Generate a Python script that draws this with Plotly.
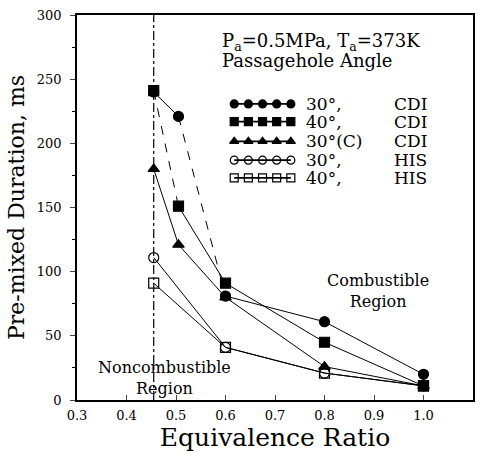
import plotly.graph_objects as go

# ---- data ----
phi_cdi = [0.455, 0.505, 0.6, 0.8, 1.0]
phi_his = [0.455, 0.6, 0.8, 1.0]
cdi30 = [240, 221, 81, 61, 20]
cdi40 = [241, 151, 91, 45, 11]
cdi30c = [180, 121, 80, 26, 11]
his30 = [111, 41, 21, 11]
his40 = [91, 41, 21, 11]
limit_phi = 0.455  # combustibility limit

x_ticks = [0.3, 0.4, 0.5, 0.6, 0.7, 0.8, 0.9, 1.0, 1.1]
x_labels = ["0.3", "0.4", "0.5", "0.6", "0.7", "0.8", "0.9", "1.0", "1.1"]
y_ticks = [0, 50, 100, 150, 200, 250, 300]

series = [
    ("30°,", "CDI", phi_cdi, cdi30, "circle", ["solid", "dash", "solid", "solid"]),
    ("40°,", "CDI", phi_cdi, cdi40, "square", ["dash", "solid", "solid", "solid"]),
    ("30°(C)", "CDI", phi_cdi, cdi30c, "triangle-up", ["solid", "solid", "solid", "solid"]),
    ("30°,", "HIS", phi_his, his30, "circle-open", ["solid", "solid", "solid"]),
    ("40°,", "HIS", phi_his, his40, "square-open", ["solid", "solid", "solid"]),
]

FONT = "DejaVu Serif"
fig = go.Figure()

fig.add_shape(type="line", x0=limit_phi, x1=limit_phi, y0=0, y1=300, xref="x", yref="y",
              line=dict(color="black", width=1.2, dash="dashdot"), layer="below")

for name, ign, xs, ys, sym, dashes in series:
    for i, d in enumerate(dashes):
        fig.add_trace(go.Scatter(x=xs[i:i + 2], y=ys[i:i + 2], mode="lines",
                                 line=dict(color="black", width=1, dash=d),
                                 showlegend=False, hoverinfo="skip"))
for name, ign, xs, ys, sym, dashes in series:
    fig.add_trace(go.Scatter(x=xs, y=ys, mode="markers",
                             marker=dict(symbol=sym, size=10, color="black",
                                         line=dict(color="black", width=1.2)),
                             showlegend=False, name=name + " " + ign))

# ---- legend key drawn on an overlay axis (0..1 of plot area) ----
key_rows = [0.769, 0.723, 0.672, 0.623, 0.577]
key_x = [0.397 + k * (0.540 - 0.397) / 4 for k in range(5)]
for (name, ign, xs, ys, sym, dashes), ry in zip(series, key_rows):
    fig.add_trace(go.Scatter(x=key_x, y=[ry] * 5, mode="lines+markers", xaxis="x2", yaxis="y2",
                             line=dict(color="black", width=1.8),
                             marker=dict(symbol=sym, size=8, color="black",
                                         line=dict(color="black", width=1.2)),
                             showlegend=False, hoverinfo="skip"))
    fig.add_annotation(xref="paper", yref="paper", x=0.573, y=ry, text=name, showarrow=False,
                       xanchor="left", yanchor="middle", font=dict(family=FONT, size=17, color="black"))
    fig.add_annotation(xref="paper", yref="paper", x=0.89, y=ry, text=ign, showarrow=False,
                       xanchor="right", yanchor="middle", font=dict(family=FONT, size=17, color="black"))

fig.add_annotation(xref="paper", yref="paper", x=0.36, y=0.93,
                   text="P<sub>a</sub>=0.5MPa, T<sub>a</sub>=373K", showarrow=False,
                   xanchor="left", yanchor="middle", font=dict(family=FONT, size=18, color="black"))
fig.add_annotation(xref="paper", yref="paper", x=0.36, y=0.883,
                   text="Passagehole Angle", showarrow=False,
                   xanchor="left", yanchor="middle", font=dict(family=FONT, size=18, color="black"))
fig.add_annotation(xref="paper", yref="paper", x=0.761, y=0.283,
                   text="Combustible<br>Region", showarrow=False,
                   xanchor="center", yanchor="middle", align="center",
                   font=dict(family=FONT, size=16, color="black"))
fig.add_annotation(xref="paper", yref="paper", x=0.221, y=0.056,
                   text="Noncombustible<br>Region", showarrow=False,
                   xanchor="center", yanchor="middle", align="center",
                   font=dict(family=FONT, size=16, color="black"))

fig.update_layout(
    width=483, height=452,
    margin=dict(l=77, r=8, t=14, b=48),
    paper_bgcolor="white", plot_bgcolor="white",
    font=dict(family=FONT, color="black"),
    xaxis=dict(range=[0.3, 1.1], tickvals=x_ticks, ticktext=x_labels, ticks="inside", ticklen=5,
               showgrid=False, zeroline=False, showline=True, mirror=True,
               linecolor="black", linewidth=1.5, tickfont=dict(family=FONT, size=13),
               ticklabelstandoff=3,
               title=dict(text="Equivalence Ratio", font=dict(family=FONT, size=25), standoff=3)),
    yaxis=dict(range=[0, 300], tickvals=y_ticks, ticks="outside", ticklen=5,
               minor=dict(dtick=25, ticks="outside", ticklen=3, tickcolor="black"),
               showgrid=False, zeroline=False, showline=True, mirror=True,
               linecolor="black", linewidth=1.5, tickfont=dict(family=FONT, size=13),
               ticklabelstandoff=6,
               title=dict(text="Pre-mixed Duration, ms", font=dict(family=FONT, size=22), standoff=6)),
    xaxis2=dict(range=[0, 1], overlaying="x", visible=False),
    yaxis2=dict(range=[0, 1], overlaying="y", visible=False),
    showlegend=False,
)

fig.write_html("out.html")
